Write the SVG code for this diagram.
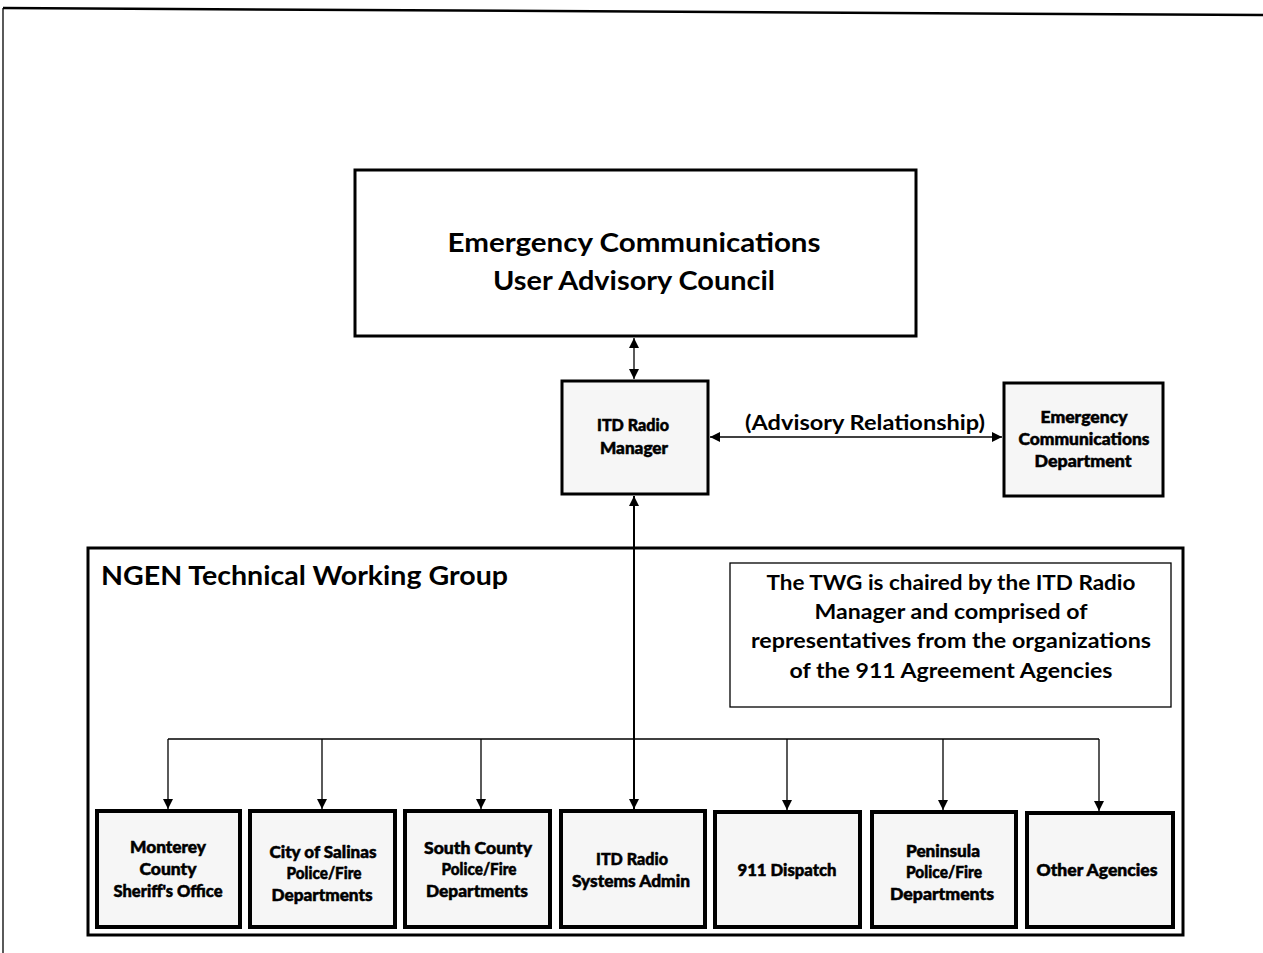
<svg xmlns="http://www.w3.org/2000/svg" width="1263" height="953" viewBox="0 0 1263 953">
<style>
text{font-family:Lato,"Liberation Sans",sans-serif;font-weight:bold;fill:#000;text-anchor:middle}
.big{font-size:27px}
.mid{font-size:20px}
.sm{font-size:16px;font-weight:900;stroke:#000;stroke-width:0.5}
.box{fill:#fff;stroke:#000;stroke-width:3}
.nbox{fill:#f6f6f6;stroke:#000;stroke-width:4}
.thin{fill:#fff;stroke:#000;stroke-width:1.3}
.ln{fill:none;stroke:#000;stroke-width:1.3}
.ln2{fill:none;stroke:#000;stroke-width:2}
</style>
<defs>
<marker id="ah" viewBox="0 0 10 10" refX="10" refY="5" markerWidth="11" markerHeight="10" markerUnits="userSpaceOnUse" orient="auto-start-reverse">
<path d="M0,0 L10,5 L0,10 z" fill="#000"/>
</marker>
</defs>
<rect width="1263" height="953" fill="#fff"/>
<g id="page-border">
<path d="M3,8 L1263,15" class="ln2" style="stroke-width:2.5"/>
<path d="M3,8 L3,953" class="ln"/>
</g>
<g id="twg">
<rect x="88" y="548" width="1095" height="387" class="box"/>
<text x="101" y="585" class="big" style="text-anchor:start" textLength="407" lengthAdjust="spacingAndGlyphs">NGEN Technical Working Group</text>
</g>
<g id="note">
<rect x="730" y="563" width="441" height="144" class="thin"/>
<text x="951" y="590" class="mid" textLength="369" lengthAdjust="spacingAndGlyphs">The TWG is chaired by the ITD Radio</text>
<text x="951" y="619" class="mid" textLength="273" lengthAdjust="spacingAndGlyphs">Manager and comprised of</text>
<text x="951" y="648" class="mid" textLength="400" lengthAdjust="spacingAndGlyphs">representatives from the organizations</text>
<text x="951" y="678" class="mid" textLength="323" lengthAdjust="spacingAndGlyphs">of the 911 Agreement Agencies</text>
</g>
<g id="council">
<rect x="355" y="170" width="561" height="166" class="box"/>
<text x="634" y="252" class="big" textLength="373" lengthAdjust="spacingAndGlyphs">Emergency Communications</text>
<text x="634" y="290" class="big" textLength="282" lengthAdjust="spacingAndGlyphs">User Advisory Council</text>
</g>
<g id="itd-manager">
<rect x="562" y="381" width="146" height="113" class="nbox" style="stroke-width:3"/>
<text x="633" y="431" class="sm" textLength="72" lengthAdjust="spacingAndGlyphs">ITD Radio</text>
<text x="634" y="454" class="sm" textLength="68" lengthAdjust="spacingAndGlyphs">Manager</text>
</g>
<g id="ecd">
<rect x="1004" y="383" width="159" height="113" class="nbox" style="stroke-width:3"/>
<text x="1084" y="423" class="sm" textLength="87" lengthAdjust="spacingAndGlyphs">Emergency</text>
<text x="1084" y="445" class="sm" textLength="131" lengthAdjust="spacingAndGlyphs">Communications</text>
<text x="1083" y="467" class="sm" textLength="97" lengthAdjust="spacingAndGlyphs">Department</text>
</g>
<g id="lbl-advisory">
<text x="865" y="430" class="mid" textLength="240" lengthAdjust="spacingAndGlyphs">(Advisory Relationship)</text>
</g>
<g id="n1">
<rect x="97" y="811" width="143" height="116" class="nbox"/>
<text x="168" y="853" class="sm" textLength="76" lengthAdjust="spacingAndGlyphs">Monterey</text>
<text x="168" y="875" class="sm" textLength="57" lengthAdjust="spacingAndGlyphs">County</text>
<text x="168" y="897" class="sm" textLength="109" lengthAdjust="spacingAndGlyphs">Sheriff's Office</text>
</g>
<g id="n2">
<rect x="250" y="811" width="145" height="116" class="nbox"/>
<text x="323" y="858" class="sm" textLength="107" lengthAdjust="spacingAndGlyphs">City of Salinas</text>
<text x="324" y="879" class="sm" textLength="75" lengthAdjust="spacingAndGlyphs">Police/Fire</text>
<text x="322" y="901" class="sm" textLength="101" lengthAdjust="spacingAndGlyphs">Departments</text>
</g>
<g id="n3">
<rect x="405" y="811" width="145" height="116" class="nbox"/>
<text x="478" y="854" class="sm" textLength="108" lengthAdjust="spacingAndGlyphs">South County</text>
<text x="479" y="875" class="sm" textLength="75" lengthAdjust="spacingAndGlyphs">Police/Fire</text>
<text x="477" y="897" class="sm" textLength="102" lengthAdjust="spacingAndGlyphs">Departments</text>
</g>
<g id="n4">
<rect x="561" y="811" width="144" height="116" class="nbox"/>
<text x="632" y="865" class="sm" textLength="72" lengthAdjust="spacingAndGlyphs">ITD Radio</text>
<text x="631" y="887" class="sm" textLength="118" lengthAdjust="spacingAndGlyphs">Systems Admin</text>
</g>
<g id="n5">
<rect x="715" y="812" width="145" height="115" class="nbox"/>
<text x="787" y="876" class="sm" textLength="99" lengthAdjust="spacingAndGlyphs">911 Dispatch</text>
</g>
<g id="n6">
<rect x="872" y="812" width="144" height="115" class="nbox"/>
<text x="943" y="857" class="sm" textLength="74" lengthAdjust="spacingAndGlyphs">Peninsula</text>
<text x="944" y="878" class="sm" textLength="76" lengthAdjust="spacingAndGlyphs">Police/Fire</text>
<text x="942" y="900" class="sm" textLength="104" lengthAdjust="spacingAndGlyphs">Departments</text>
</g>
<g id="n7">
<rect x="1027" y="813" width="146" height="114" class="nbox"/>
<text x="1097" y="876" class="sm" textLength="121" lengthAdjust="spacingAndGlyphs">Other Agencies</text>
</g>
<g id="connectors">
<path d="M634,338 L634,379" class="ln" marker-start="url(#ah)" marker-end="url(#ah)"/>
<path d="M710,437 L1002,437" class="ln" marker-start="url(#ah)" marker-end="url(#ah)"/>
<path d="M634,496 L634,809" class="ln2" marker-start="url(#ah)" marker-end="url(#ah)"/>
<path d="M168,739 L1099,739" class="ln"/>
<path d="M168,739 L168,809" class="ln" marker-end="url(#ah)"/>
<path d="M322,739 L322,809" class="ln" marker-end="url(#ah)"/>
<path d="M481,739 L481,809" class="ln" marker-end="url(#ah)"/>
<path d="M787,739 L787,810" class="ln" marker-end="url(#ah)"/>
<path d="M943,739 L943,810" class="ln" marker-end="url(#ah)"/>
<path d="M1099,739 L1099,811" class="ln" marker-end="url(#ah)"/>
</g>
</svg>
